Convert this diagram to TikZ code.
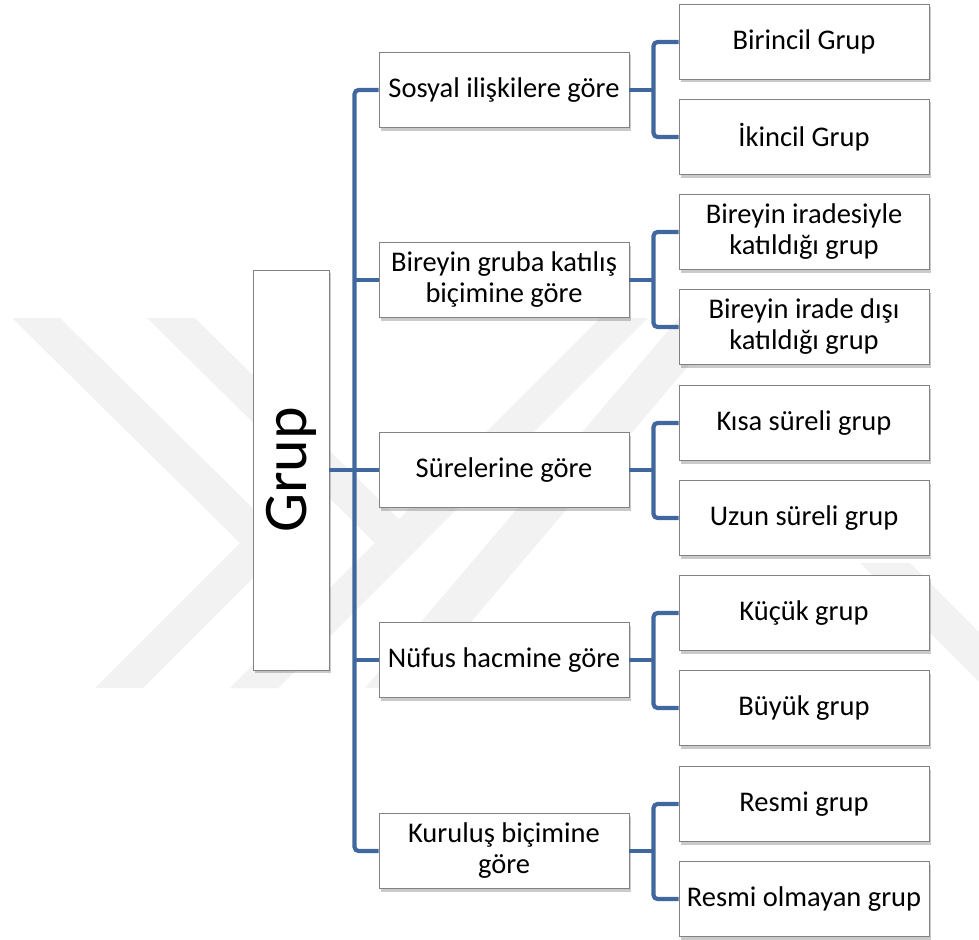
\documentclass[tikz,border=0pt]{standalone}
\usepackage{fontspec}
\setmainfont{Carlito}
\usepackage{graphicx}
\usetikzlibrary{shadows,positioning}
\definecolor{conncol}{RGB}{64,104,158}
\definecolor{boxline}{RGB}{130,130,130}
\definecolor{wm}{RGB}{242,242,242}
\tikzset{
  x=1pt, y=-1pt,
  box/.style={draw=boxline, line width=0.9pt, fill=white, inner sep=0pt,
    minimum width=250pt, minimum height=75pt, align=center,
    font=\fontsize{28.5}{31}\selectfont,
    drop shadow={shadow xshift=2pt, shadow yshift=-3pt, opacity=0.35, fill=black!60}},
  conn/.style={draw=conncol, line width=4.2pt, rounded corners=4pt},
  wmark/.style={fill=wm, draw=none}
}
\begin{document}
\begin{tikzpicture}
\useasboundingbox (0,0) rectangle (979,939);
% watermark
\fill[wmark] (12,318) -- (60,318) -- (288,543) -- (143,688) -- (95,688) -- (240,543) -- cycle;
\fill[wmark] (147,318) -- (195,318) -- (423,543) -- (278,688) -- (230,688) -- (375,543) -- cycle;
\fill[wmark] (230,688) -- (278,688) -- (648,318) -- (600,318) -- cycle;
\fill[wmark] (365,688) -- (415,688) -- (729,318) -- (679,318) -- cycle;
\fill[wmark] (860,563) -- (910,563) -- (979,632) -- (979,688) -- (985,688) -- cycle;

% root
\node[box, minimum width=76pt, minimum height=400pt] (grup) at (291,470)
  {\rotatebox{90}{\fontsize{62}{62}\selectfont Grup}};

% middle level
\node[box] (m1) at (504,90) {Sosyal ilişkilere göre};
\node[box] (m2) at (504,280) {Bireyin gruba katılış\\biçimine göre};
\node[box] (m3) at (504,470) {Sürelerine göre};
\node[box] (m4) at (504,660) {Nüfus hacmine göre};
\node[box] (m5) at (504,851) {Kuruluş biçimine\\göre};

% leaves
\node[box] (c1) at (804,42) {Birincil Grup};
\node[box] (c2) at (804,137) {İkincil Grup};
\node[box] (c3) at (804,232) {Bireyin iradesiyle\\katıldığı grup};
\node[box] (c4) at (804,327) {Bireyin irade dışı\\katıldığı grup};
\node[box] (c5) at (804,423) {Kısa süreli grup};
\node[box] (c6) at (804,518) {Uzun süreli grup};
\node[box] (c7) at (804,613) {Küçük grup};
\node[box] (c8) at (804,708) {Büyük grup};
\node[box] (c9) at (804,804) {Resmi grup};
\node[box] (c10) at (804,899) {Resmi olmayan grup};

% trunk
\draw[conn] (m1.west) -- ++(-24,0) coordinate (tt) |- (m5.west);
\draw[conn] (grup.east) -- (m3.west);
\draw[conn] (m2.west) -- ++(-24,0);
\draw[conn] (m4.west) -- ++(-24,0);

% branches
\foreach \m/\a/\b in {m1/c1/c2, m2/c3/c4, m3/c5/c6, m4/c7/c8, m5/c9/c10}{
  \draw[conn] (\a.west) -- ++(-25,0) |- (\b.west);
  \draw[conn] (\m.east) -- ++(25,0);
}
\end{tikzpicture}
\end{document}
